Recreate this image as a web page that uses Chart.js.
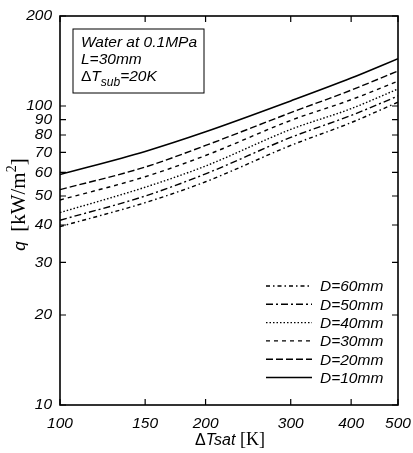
<!DOCTYPE html>
<html>
<head>
<meta charset="utf-8">
<script src="https://cdn.jsdelivr.net/npm/chart.js@4.4.1/dist/chart.umd.min.js"></script>
<style>
  html, body { margin: 0; padding: 0; background: #fff; }
  canvas { display: block; }
</style>
</head>
<body>
<canvas id="myChart" width="413" height="453"></canvas>
<script>
// values (q in kW/m2 against dTsat in K)
const deltaT = [100, 150, 200, 300, 400, 500];
const qD10 = [59, 70.5, 82, 104, 124, 144];
const qD20 = [52.5, 62.5, 73.8, 95, 113, 131];
const qD30 = [48.5, 58, 68.3, 89.5, 105, 121];
const qD40 = [44, 53.5, 63, 83.5, 98, 114];
const qD50 = [41.5, 50, 59.3, 78.5, 93, 108];
const qD60 = [39.5, 47.5, 55.8, 73.8, 88, 103];

const seriesLabels = ['D=10mm', 'D=20mm', 'D=30mm', 'D=40mm', 'D=50mm', 'D=60mm'];
const xTicks = [100, 150, 200, 300, 400, 500];
const yTicks = [10, 20, 30, 40, 50, 60, 70, 80, 90, 100, 200];

const SANS = '"Liberation Sans", Arial, sans-serif';
const SERIF = '"Liberation Serif", "Times New Roman", serif';

const dashes = [[], [7, 3], [4, 4], [1.5, 2], [7, 3, 2, 3], [4, 3, 1.5, 3]];
const widths = [1.6, 1.4, 1.4, 1.4, 1.4, 1.4];

function toPoints(ys) {
    return deltaT.map((x, i) => ({ x: x, y: ys[i] }));
}

const allSeries = [qD10, qD20, qD30, qD40, qD50, qD60];
const datasets = allSeries.map((ys, i) => ({
    label: seriesLabels[i],
    data: toPoints(ys),
    borderColor: '#000',
    borderWidth: widths[i],
    borderDash: dashes[i],
    pointRadius: 0,
    fill: false,
    cubicInterpolationMode: 'monotone'
}));

// frame, inward ticks, text box, legend and axis titles
const decorations = {
    id: 'decorations',
    afterDraw(chart) {
        const ctx = chart.ctx;
        const a = chart.chartArea;
        const xs = chart.scales.x;
        const ysc = chart.scales.y;
        ctx.save();
        ctx.strokeStyle = '#000';
        ctx.fillStyle = '#000';

        // ticks
        ctx.lineWidth = 1.2;
        ctx.setLineDash([]);
        ctx.beginPath();
        xTicks.forEach(v => {
            const px = xs.getPixelForValue(v);
            ctx.moveTo(px, a.bottom); ctx.lineTo(px, a.bottom - 6);
            ctx.moveTo(px, a.top); ctx.lineTo(px, a.top + 6);
        });
        yTicks.forEach(v => {
            const py = ysc.getPixelForValue(v);
            ctx.moveTo(a.left, py); ctx.lineTo(a.left + 6, py);
            ctx.moveTo(a.right, py); ctx.lineTo(a.right - 6, py);
        });
        ctx.stroke();

        // frame
        ctx.lineWidth = 1.6;
        ctx.strokeRect(a.left, a.top, a.right - a.left, a.bottom - a.top);

        // text box
        const bx = a.left + 13, by = a.top + 13;
        ctx.lineWidth = 1;
        ctx.strokeRect(bx, by, 131, 64);
        ctx.font = 'italic 15.5px ' + SANS;
        ctx.textBaseline = 'alphabetic';
        ctx.textAlign = 'left';
        ctx.fillText('Water at 0.1MPa', bx + 8, by + 18);
        ctx.fillText('L=30mm', bx + 8, by + 35);
        ctx.font = '15.5px ' + SANS;
        ctx.fillText('\u0394', bx + 8, by + 52);
        let tx = bx + 8 + ctx.measureText('\u0394').width;
        ctx.font = 'italic 15.5px ' + SANS;
        ctx.fillText('T', tx, by + 52);
        tx += ctx.measureText('T').width;
        ctx.font = 'italic 12px ' + SANS;
        ctx.fillText('sub', tx, by + 57);
        tx += ctx.measureText('sub').width;
        ctx.font = 'italic 15.5px ' + SANS;
        ctx.fillText('=20K', tx, by + 52);

        // legend, D=60mm on top
        ctx.font = 'italic 15.5px ' + SANS;
        ctx.textBaseline = 'middle';
        const ds = chart.data.datasets;
        for (let k = 0; k < ds.length; k++) {
            const d = ds[ds.length - 1 - k];
            const ly = a.top + 270 + k * 18.3;
            ctx.lineWidth = d.borderWidth;
            ctx.setLineDash(d.borderDash);
            ctx.beginPath();
            ctx.moveTo(a.right - 132, ly);
            ctx.lineTo(a.right - 86, ly);
            ctx.stroke();
            ctx.setLineDash([]);
            ctx.fillText(d.label, a.right - 78, ly + 1);
        }

        // x title
        const cx = (a.left + a.right) / 2;
        const xtY = a.bottom + 40;
        ctx.textBaseline = 'alphabetic';
        const p1 = '\u0394', p2 = 'Tsat', p3 = ' [K]';
        ctx.font = '16px ' + SANS;
        const w1 = ctx.measureText(p1).width;
        ctx.font = 'italic 16px ' + SANS;
        const w2 = ctx.measureText(p2).width;
        ctx.font = '18px ' + SERIF;
        const w3 = ctx.measureText(p3).width;
        let sx = cx - (w1 + w2 + w3) / 2 + 1;
        ctx.font = '16px ' + SANS;
        ctx.fillText(p1, sx, xtY); sx += w1;
        ctx.font = 'italic 16px ' + SANS;
        ctx.fillText(p2, sx, xtY); sx += w2;
        ctx.font = '18px ' + SERIF;
        ctx.fillText(p3, sx, xtY);

        // y title, rotated
        ctx.translate(a.left - 35, (a.top + a.bottom) / 2 - 6);
        ctx.rotate(-Math.PI / 2);
        ctx.font = 'italic 17px ' + SANS;
        const q = 'q  ';
        const wq = ctx.measureText(q).width;
        ctx.font = '21px ' + SERIF;
        const u1 = '[kW/m';
        const wu1 = ctx.measureText(u1).width;
        ctx.font = '14px ' + SERIF;
        const wsup = ctx.measureText('2').width;
        ctx.font = '21px ' + SERIF;
        const wu2 = ctx.measureText(']').width;
        let rx = -(wq + wu1 + wsup + wu2) / 2;
        ctx.font = 'italic 17px ' + SANS;
        ctx.fillText(q, rx, 0); rx += wq;
        ctx.font = '21px ' + SERIF;
        ctx.fillText(u1, rx, 0); rx += wu1;
        ctx.font = '14px ' + SERIF;
        ctx.fillText('2', rx, -9); rx += wsup;
        ctx.font = '21px ' + SERIF;
        ctx.fillText(']', rx, 0);
        ctx.restore();
    }
};

const ctx = document.getElementById('myChart').getContext('2d');
const myChart = new Chart(ctx, {
    type: 'line',
    data: { datasets: datasets },
    plugins: [decorations],
    options: {
        responsive: false,
        animation: false,
        devicePixelRatio: 1,
        layout: { padding: { left: 0, right: 15, top: 16, bottom: 0 } },
        plugins: {
            legend: { display: false },
            tooltip: { enabled: false }
        },
        scales: {
            x: {
                type: 'logarithmic',
                min: 100,
                max: 500,
                grid: { display: false, drawTicks: false },
                border: { display: false },
                afterBuildTicks: s => { s.ticks = xTicks.map(v => ({ value: v })); },
                afterFit: s => { s.height = 48; s.paddingLeft = 0; s.paddingRight = 0; },
                ticks: {
                    callback: v => String(v),
                    autoSkip: false,
                    maxRotation: 0,
                    padding: 9,
                    color: '#000',
                    font: { family: SANS, size: 15.5, style: 'italic' }
                }
            },
            y: {
                type: 'logarithmic',
                min: 10,
                max: 200,
                grid: { display: false, drawTicks: false },
                border: { display: false },
                afterBuildTicks: s => { s.ticks = yTicks.map(v => ({ value: v })); },
                afterFit: s => { s.width = 60; s.paddingTop = 0; s.paddingBottom = 0; },
                ticks: {
                    callback: v => String(v),
                    autoSkip: false,
                    padding: 8,
                    color: '#000',
                    font: { family: SANS, size: 15.5, style: 'italic' }
                }
            }
        }
    }
});
</script>
</body>
</html>
